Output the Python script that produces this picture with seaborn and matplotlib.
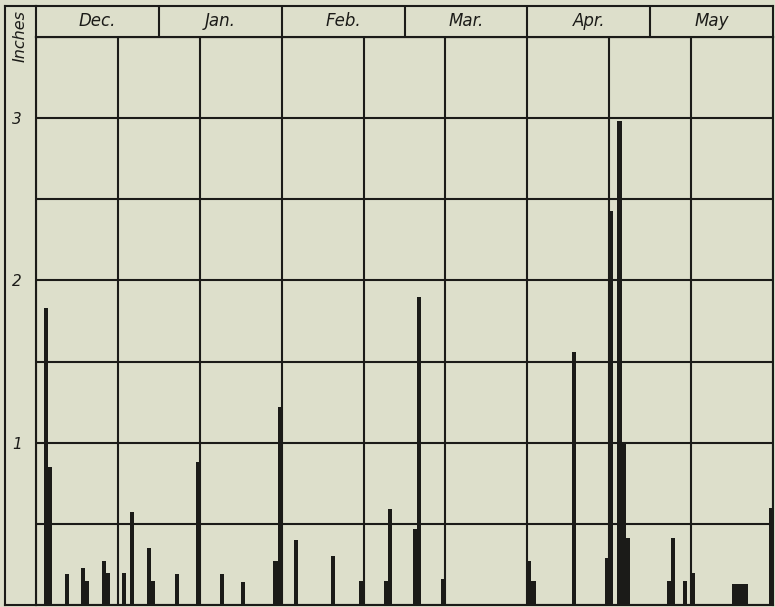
import numpy as np
import pandas as pd
import matplotlib
matplotlib.use("Agg")
import matplotlib.pyplot as plt
import seaborn as sns
from matplotlib.lines import Line2D

# season days counted from Dec 1 (30-day months on the chart), rainfall in inches
days = [3, 4, 8, 12, 13, 17, 18, 22, 24, 28, 29,
        35, 40, 46, 51, 59, 60,
        64, 73, 80, 86, 87,
        93, 94, 100,
        121, 122, 132, 140, 141, 143, 144, 145,
        155, 156, 159, 161, 171, 172, 173, 174, 180]
rain = [1.83, 0.85, 0.19, 0.23, 0.15, 0.27, 0.20, 0.20, 0.57, 0.35, 0.15,
        0.19, 0.88, 0.19, 0.14, 0.27, 1.22,
        0.40, 0.30, 0.15, 0.15, 0.59,
        0.47, 1.90, 0.16,
        0.27, 0.15, 1.56, 0.29, 2.43, 2.98, 1.00, 0.41,
        0.15, 0.41, 0.15, 0.20, 0.13, 0.13, 0.13, 0.13, 0.60]
months = ["Dec.", "Jan.", "Feb.", "Mar.", "Apr.", "May"]
y_labels = ["1", "2", "3"]

df = pd.DataFrame({"day": days, "rain": rain})

bg = "#dddfcb"
ink = "#1b1b18"
W, H = 775, 607

fig = plt.figure(figsize=(W / 100, H / 100), dpi=100, facecolor=bg)
x0, x1 = 36, 773
y_bot, y_mid, y_top = 2, 570, 601

ax = fig.add_axes([x0 / W, y_bot / H, (x1 - x0) / W, (y_mid - y_bot) / H])
ax.set_facecolor(bg)
sns.barplot(data=df, x="day", y="rain", native_scale=True, width=1,
            color=ink, saturation=1, errorbar=None, linewidth=0, ax=ax)
ax.set_xlim(0.5, 180.5)
ax.set_ylim(0, 3.5)
ax.set_xticks(np.arange(0.5, 181, 20))
ax.set_xticklabels([])
ax.set_yticks(np.arange(0, 3.51, 0.5))
ax.set_yticklabels(["", "", y_labels[0], "", y_labels[1], "", y_labels[2], ""],
                   fontsize=11, style="italic", color=ink)
ax.tick_params(length=0, pad=10)
ax.grid(True, color=ink, linewidth=1.5)
ax.set_axisbelow(True)
ax.set_xlabel("")
ax.set_ylabel("")
for s in ax.spines.values():
    s.set_color(ink)
    s.set_linewidth(1.5)

# header with month names
hx = fig.add_axes([x0 / W, y_mid / H, (x1 - x0) / W, (y_top - y_mid) / H])
hx.set_facecolor(bg)
hx.set_xlim(0.5, 180.5)
hx.set_ylim(0, 1)
hx.set_xticks([])
hx.set_yticks([])
for i, m in enumerate(months):
    if i > 0:
        hx.axvline(0.5 + 30 * i, color=ink, linewidth=1.5)
    hx.text(0.5 + 30 * i + 15, 0.5, m, ha="center", va="center",
            fontsize=12, style="italic", color=ink)
for s in hx.spines.values():
    s.set_color(ink)
    s.set_linewidth(1.5)

# outer frame of the left label strip
fig.add_artist(Line2D([5 / W, 5 / W], [y_bot / H, y_top / H], color=ink, linewidth=1.5))
fig.add_artist(Line2D([5 / W, x0 / W], [y_top / H, y_top / H], color=ink, linewidth=1.5))
fig.add_artist(Line2D([5 / W, x0 / W], [y_bot / H, y_bot / H], color=ink, linewidth=1.5))
fig.text(20 / W, (H - 36) / H, "Inches", rotation=90, ha="center", va="center",
         fontsize=11.5, style="italic", color=ink)

fig.savefig("out.png", dpi=100, facecolor=bg)
